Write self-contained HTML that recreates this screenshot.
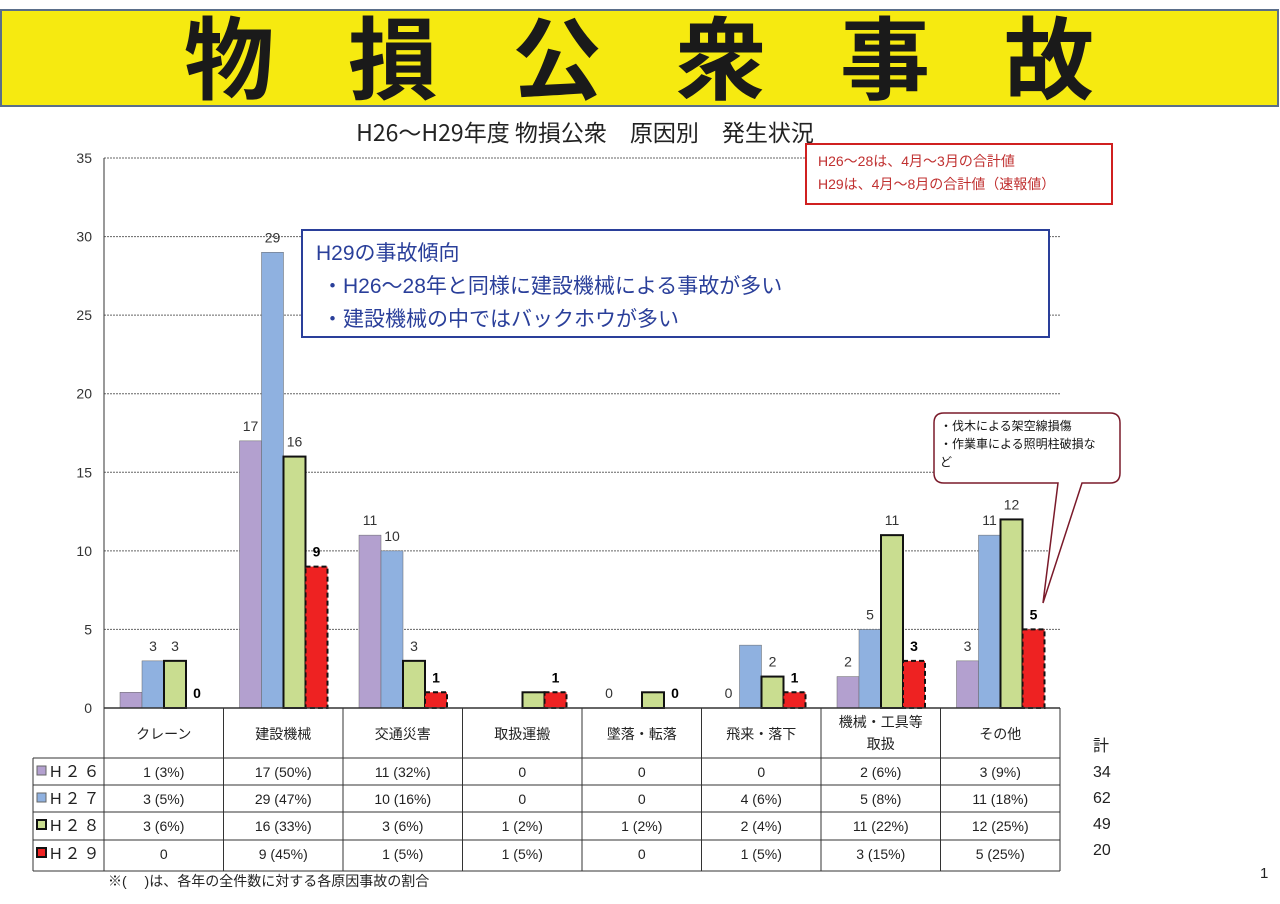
<!DOCTYPE html>
<html><head><meta charset="utf-8"><style>
body{margin:0;background:#fff;}
svg{display:block;font-family:"Liberation Sans","Noto Sans CJK JP",sans-serif;}
</style></head><body>
<svg id="s" width="1280" height="904" viewBox="0 0 1280 904" xmlns="http://www.w3.org/2000/svg">
<rect x="0" y="0" width="1280" height="904" fill="#fff"/>
<rect x="1" y="10" width="1277" height="96" fill="#f6ea10" stroke="#5a6e8a" stroke-width="2"/>
<text x="676" y="92" font-size="90" font-weight="bold" text-anchor="middle" fill="#1a1a1a" font-family="Noto Sans CJK JP,sans-serif" letter-spacing="74">物損公衆事故</text>
<text x="585" y="141" font-size="23" text-anchor="middle" fill="#222" font-family="Noto Sans CJK JP,sans-serif">H26～H29年度 物損公衆　原因別　発生状況</text>
<g id="grid" stroke="#666" stroke-dasharray="2,1" stroke-width="1"></g>
<g id="yl" font-size="14" fill="#333" text-anchor="end"></g>
<g id="bars"></g>
<g id="lbl" font-size="14" fill="#333" text-anchor="middle"></g>
<rect x="806" y="144" width="306" height="60" fill="#fff" stroke="#d02020" stroke-width="2"/>
<text x="818" y="166" font-size="14" fill="#c03030">H26～28は、4月～3月の合計値</text>
<text x="818" y="189" font-size="14" fill="#c03030">H29は、4月～8月の合計値（速報値）</text>
<rect x="302" y="230" width="747" height="107" fill="#fff" stroke="#2a3f9a" stroke-width="2"/>
<text x="316" y="260" font-size="21" fill="#2a3f9a">H29の事故傾向</text>
<text x="322" y="293" font-size="21" fill="#2a3f9a">・H26～28年と同様に建設機械による事故が多い</text>
<text x="322" y="326" font-size="21" fill="#2a3f9a">・建設機械の中ではバックホウが多い</text>
<path d="M944,413 H1110 Q1120,413 1120,423 V473 Q1120,483 1110,483 H1082 L1043,603 L1058,483 H944 Q934,483 934,473 V423 Q934,413 944,413 Z" fill="#fff" stroke="#7a1a2a" stroke-width="1.5"/>
<text x="940" y="430" font-size="12" fill="#111">・伐木による架空線損傷</text>
<text x="940" y="448" font-size="12" fill="#111">・作業車による照明柱破損な</text>
<text x="940" y="466" font-size="12" fill="#111">ど</text>
<g id="tbl" stroke="#333" stroke-width="1" fill="none"></g>
<g id="tt" font-size="14" fill="#222"></g>
<text x="108" y="886" font-size="14" fill="#222">※(　 )は、各年の全件数に対する各原因事故の割合</text>
<text x="1260" y="878" font-size="15" fill="#222">1</text>
</svg>
<script>
const NS="http://www.w3.org/2000/svg";
function el(p,t,a,txt){const e=document.createElementNS(NS,t);for(const k in a)e.setAttribute(k,a[k]);if(txt!=null)e.textContent=txt;document.getElementById(p).appendChild(e);return e;}
const Y0=708,U=550/35;
for(let v=0;v<=35;v+=5){const y=Y0-v*U;if(v>0)el("grid","line",{x1:104,x2:1060,y1:y,y2:y});el("yl","text",{x:92,y:y+5},v);}
const d=[[1,17,11,0,0,0,2,3],[3,29,10,0,0,4,5,11],[3,16,3,1,1,2,11,12],[0,9,1,1,0,1,3,5]];
const col=["#b3a0cf","#8fb1e0","#c9dd90","#ee2222"];
const cw=119.5;
for(let i=0;i<8;i++){const c=104+i*cw;for(let k=0;k<4;k++){const v=d[k][i];if(!v)continue;const x=c+16+k*22,h=v*U;
const a={x:x,y:Y0-h,width:22,height:h,fill:col[k]};
if(k==2){a.stroke="#111";a["stroke-width"]=2;}
if(k==3){a.stroke="#111";a["stroke-width"]=2;a["stroke-dasharray"]="5,3";}
if(k<2){a.stroke="#666";a["stroke-width"]=0.5;}
el("bars","rect",a);}}
const L=[[0,1,3],[0,2,3],[0,3,0],[1,0,17],[1,1,29],[1,2,16],[1,3,9],[2,0,11],[2,1,10],[2,2,3],[2,3,1],[3,3,1],[4,0,0],[4,3,0],[5,0,0],[5,2,2],[5,3,1],[6,0,2],[6,1,5],[6,2,11],[6,3,3],[7,0,3],[7,1,11],[7,2,12],[7,3,5]];
L.forEach(([i,k,v])=>{const c=104+i*cw,x=c+16+k*22+11,y=Y0-v*U-10;const t=el("lbl","text",{x:x,y:y},v);if(k==3){t.setAttribute("font-weight","bold");t.setAttribute("fill","#000");}});
el("bars","line",{x1:104,x2:1060,y1:Y0,y2:Y0,stroke:"#333","stroke-width":1.5});
const ry=[758,785,812,840,871];
el("tbl","line",{x1:104,x2:104,y1:158,y2:871});
el("tbl","line",{x1:1060,x2:1060,y1:708,y2:871});
for(let i=1;i<8;i++){const x=104+i*cw;el("tbl","line",{x1:x,x2:x,y1:708,y2:871});}
ry.forEach(y=>el("tbl","line",{x1:33,x2:1060,y1:y,y2:y}));
el("tbl","line",{x1:33,x2:33,y1:758,y2:871});
const cats=["クレーン","建設機械","交通災害","取扱運搬","墜落・転落","飛来・落下","機械・工具等","その他"];
cats.forEach((s,i)=>{const x=104+i*cw+cw/2;el("tt","text",{x:x,y:i==6?727:739,"text-anchor":"middle"},s);});
el("tt","text",{x:104+6*cw+cw/2,y:749,"text-anchor":"middle"},"取扱");
const rows=[["1 (3%)","17 (50%)","11 (32%)","0","0","0","2 (6%)","3 (9%)"],["3 (5%)","29 (47%)","10 (16%)","0","0","4 (6%)","5 (8%)","11 (18%)"],["3 (6%)","16 (33%)","3 (6%)","1 (2%)","1 (2%)","2 (4%)","11 (22%)","12 (25%)"],["0","9 (45%)","1 (5%)","1 (5%)","0","1 (5%)","3 (15%)","5 (25%)"]];
const nm=["H２６","H２７","H２８","H２９"];
rows.forEach((r,k)=>{const y=ry[k]+19;
el("tbl","rect",{x:37,y:y-11,width:9,height:9,fill:col[k],stroke:k>=2?"#111":"#666","stroke-width":k>=2?2:1});
el("tt","text",{x:50,y:y,"font-size":16,"letter-spacing":3},nm[k]);
r.forEach((s,i)=>el("tt","text",{x:104+i*cw+cw/2,y:y,"text-anchor":"middle"},s));});
el("tt","text",{x:1093,y:751,"font-size":16},"計");
["34","62","49","20"].forEach((s,k)=>el("tt","text",{x:1093,y:777+k*26,"font-size":16},s));
</script>
</body></html>
